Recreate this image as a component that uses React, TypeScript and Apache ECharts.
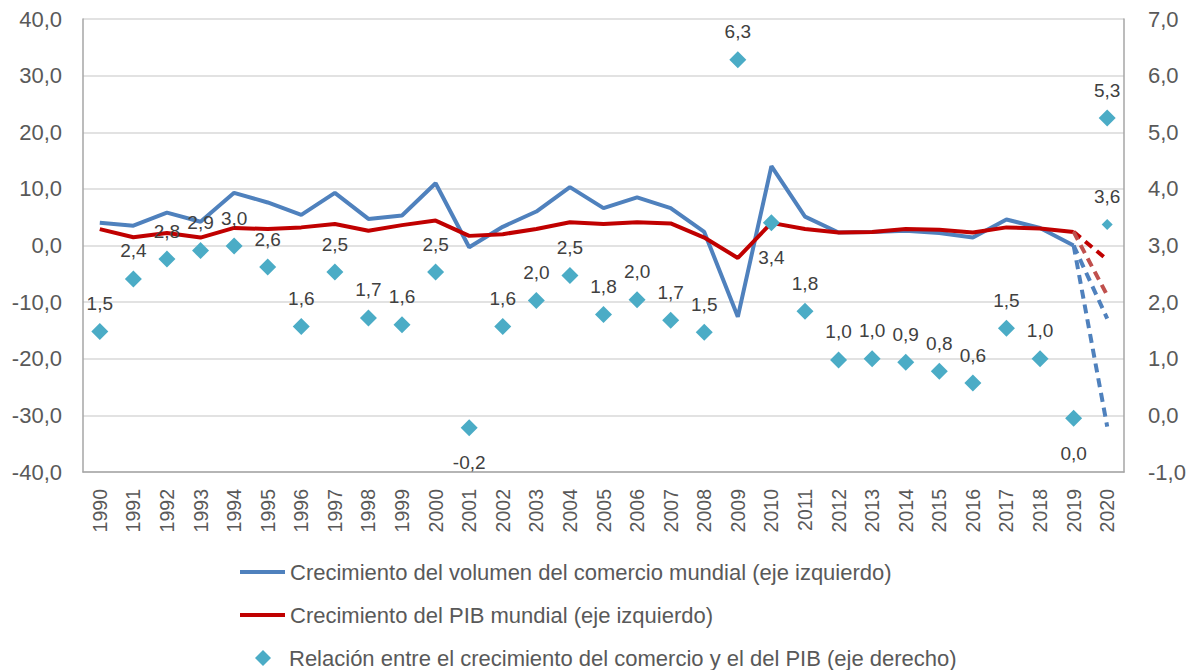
import React, { useEffect, useRef } from "react";
import * as echarts from "echarts";

const years = [
  "1990", "1991", "1992", "1993", "1994", "1995", "1996", "1997", "1998", "1999",
  "2000", "2001", "2002", "2003", "2004", "2005", "2006", "2007", "2008", "2009",
  "2010", "2011", "2012", "2013", "2014", "2015", "2016", "2017", "2018", "2019", "2020",
];

// Crecimiento del volumen del comercio mundial (eje izquierdo)
const tradeGrowth = [
  4.0, 3.5, 5.8, 4.2, 9.3, 7.6, 5.4, 9.3, 4.7, 5.3,
  11.0, -0.3, 3.3, 6.0, 10.3, 6.6, 8.5, 6.6, 2.4, -12.6,
  14.0, 5.1, 2.3, 2.4, 2.6, 2.2, 1.4, 4.6, 3.1, 0.0, null,
];

// Crecimiento del PIB mundial (eje izquierdo)
const gdpGrowth = [
  2.9, 1.45, 2.2, 1.4, 3.1, 2.9, 3.2, 3.8, 2.6, 3.6,
  4.4, 1.7, 2.0, 2.9, 4.1, 3.8, 4.1, 3.9, 1.4, -2.2,
  4.0, 2.9, 2.3, 2.4, 2.9, 2.8, 2.3, 3.2, 3.0, 2.4, null,
];

// Proyecciones 2020 (escenarios)
const tradeScenarioA = [["2019", 0.0], ["2020", -12.9]];
const tradeScenarioB = [["2019", 0.0], ["2020", -32.0]];
const gdpScenarioA = [["2019", 2.4], ["2020", -2.5]];
const gdpScenarioB = [["2019", 2.4], ["2020", -8.8]];

// Relación entre el crecimiento del comercio y el del PIB (eje derecho)
const ratio = [
  1.48, 2.41, 2.76, 2.91, 2.99, 2.62, 1.57, 2.53, 1.72, 1.6,
  2.53, -0.22, 1.57, 2.03, 2.47, 1.78, 2.04, 1.68, 1.47, 6.28,
  3.4, 1.84, 0.98, 1.0, 0.94, 0.78, 0.57, 1.54, 1.0, -0.05, 5.25,
];
const ratioLabels = [
  "1,5", "2,4", "2,8", "2,9", "3,0", "2,6", "1,6", "2,5", "1,7", "1,6",
  "2,5", "-0,2", "1,6", "2,0", "2,5", "1,8", "2,0", "1,7", "1,5", "6,3",
  "3,4", "1,8", "1,0", "1,0", "0,9", "0,8", "0,6", "1,5", "1,0", "0,0", "5,3",
];
const ratioBelow = ["2001", "2010", "2019"];
const ratioScenarioB = [["2020", 3.37]];
const ratioScenarioBLabel = "3,6";

const leftTicks = { min: -40, max: 40, interval: 10 };
const rightTicks = { min: -1, max: 7, interval: 1 };

const NAME_TRADE = "Crecimiento del volumen del comercio mundial (eje izquierdo)";
const NAME_GDP = "Crecimiento del PIB mundial (eje izquierdo)";
const NAME_RATIO = "Relación entre el crecimiento del comercio y el del PIB (eje derecho)";

const FONT = "'Liberation Sans', Arial, sans-serif";
const BLUE = "#4F81BD";
const RED = "#C00000";
const LIGHT_RED = "#C0504D";
const TEAL = "#4BACC6";

const fmt = (v: number) => v.toFixed(1).replace(".", ",");

export default function App() {
  const ref = useRef<HTMLDivElement>(null);

  useEffect(() => {
    if (!ref.current) return;
    const chart = echarts.init(ref.current, undefined, { renderer: "svg" });

    const legendText = { fontFamily: FONT, fontSize: 22, color: "#595959" };
    const legendBase = {
      orient: "horizontal",
      padding: 0,
      itemWidth: 45,
      selectedMode: false,
      textStyle: legendText,
    };

    const ratioData = ratio.map((v, i) => ({
      value: v,
      label: {
        position: ratioBelow.includes(years[i]) ? "bottom" : "top",
        distance: ratioBelow.includes(years[i]) ? 17 : 10,
      },
    }));

    chart.setOption({
      animation: false,
      backgroundColor: "#ffffff",
      grid: { left: 83, right: 70, top: 19, bottom: 198, containLabel: false },
      legend: [
        { ...legendBase, left: 240, top: 561, data: [{ name: NAME_TRADE, icon: "rect" }], itemHeight: 4 },
        { ...legendBase, left: 240, top: 604, data: [{ name: NAME_GDP, icon: "rect" }], itemHeight: 4 },
        {
          ...legendBase,
          left: 255,
          top: 647,
          itemWidth: 16,
          itemHeight: 16,
          data: [{ name: NAME_RATIO, icon: "diamond" }],
          textStyle: { ...legendText, padding: [0, 0, 0, 13] },
        },
      ],
      xAxis: {
        type: "category",
        data: years,
        boundaryGap: true,
        axisLine: { onZero: false, lineStyle: { color: "#A6A6A6", width: 1.5 } },
        axisTick: { show: false },
        axisLabel: {
          rotate: 90,
          margin: 17,
          interval: 0,
          fontFamily: FONT,
          fontSize: 19.5,
          color: "#595959",
        },
      },
      yAxis: [
        {
          type: "value",
          min: leftTicks.min,
          max: leftTicks.max,
          interval: leftTicks.interval,
          axisLine: { show: true, lineStyle: { color: "#A6A6A6", width: 1.5 } },
          axisTick: { show: false },
          splitLine: { lineStyle: { color: "#D9D9D9", width: 1.5 } },
          axisLabel: {
            formatter: fmt,
            margin: 21,
            fontFamily: FONT,
            fontSize: 22,
            color: "#595959",
          },
        },
        {
          type: "value",
          min: rightTicks.min,
          max: rightTicks.max,
          interval: rightTicks.interval,
          axisLine: { show: true, lineStyle: { color: "#A6A6A6", width: 1.5 } },
          axisTick: { show: false },
          splitLine: { show: false },
          axisLabel: {
            formatter: fmt,
            margin: 24,
            fontFamily: FONT,
            fontSize: 22,
            color: "#595959",
          },
        },
      ],
      series: [
        {
          name: NAME_TRADE,
          type: "line",
          data: tradeGrowth,
          symbol: "none",
          lineStyle: { color: BLUE, width: 4 },
          itemStyle: { color: BLUE },
          z: 3,
        },
        {
          name: NAME_GDP,
          type: "line",
          data: gdpGrowth,
          symbol: "none",
          lineStyle: { color: RED, width: 4 },
          itemStyle: { color: RED },
          z: 4,
        },
        {
          name: "tradeScenarioA",
          type: "line",
          data: tradeScenarioA,
          symbol: "none",
          lineStyle: { color: BLUE, width: 4, type: [9, 6] },
          z: 3,
        },
        {
          name: "tradeScenarioB",
          type: "line",
          data: tradeScenarioB,
          symbol: "none",
          lineStyle: { color: BLUE, width: 4, type: [9, 6] },
          z: 3,
        },
        {
          name: "gdpScenarioA",
          type: "line",
          data: gdpScenarioA,
          symbol: "none",
          lineStyle: { color: RED, width: 4, type: [9, 6] },
          z: 4,
        },
        {
          name: "gdpScenarioB",
          type: "line",
          data: gdpScenarioB,
          symbol: "none",
          lineStyle: { color: LIGHT_RED, width: 4, type: [9, 6] },
          z: 5,
        },
        {
          name: NAME_RATIO,
          type: "scatter",
          yAxisIndex: 1,
          data: ratioData,
          symbol: "diamond",
          symbolSize: 17,
          itemStyle: { color: TEAL, opacity: 1 },
          label: {
            show: true,
            formatter: (p: any) => ratioLabels[p.dataIndex],
            fontFamily: FONT,
            fontSize: 19,
            color: "#404040",
          },
          z: 6,
        },
        {
          name: "ratioScenarioB",
          type: "scatter",
          yAxisIndex: 1,
          data: ratioScenarioB,
          symbol: "diamond",
          symbolSize: 11,
          itemStyle: { color: TEAL, opacity: 1 },
          label: {
            show: true,
            position: "top",
            distance: 13,
            formatter: () => ratioScenarioBLabel,
            fontFamily: FONT,
            fontSize: 19,
            color: "#404040",
          },
          z: 6,
        },
      ],
    });

    return () => chart.dispose();
  }, []);

  return (
    <div
      ref={ref}
      style={{ position: "fixed", left: 0, top: 0, width: 1194, height: 670 }}
    />
  );
}
